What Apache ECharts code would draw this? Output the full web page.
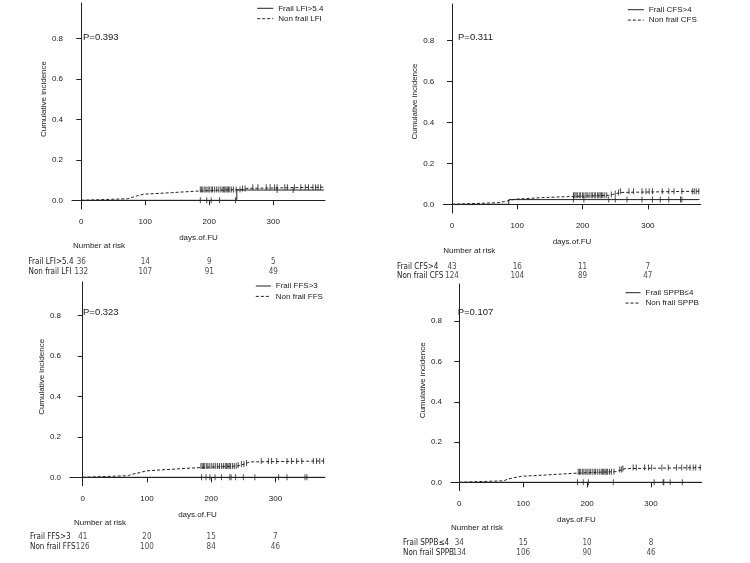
<!DOCTYPE html>
<html>
<head>
<meta charset="utf-8">
<script src="https://cdn.jsdelivr.net/npm/echarts@6/dist/echarts.min.js"></script>
<style>
html,body{margin:0;padding:0;background:#fff;}
#chart{width:750px;height:563px;}
</style>
</head>
<body>
<div id="chart"></div>
<script>
// ---------------- DATA ----------------
const riskTimes = [0, 100, 200, 300];
const xTicks = [0, 100, 200, 300];
const yTicks = [0, 0.2, 0.4, 0.6, 0.8];
const pValues = ['P=0.393', 'P=0.311', 'P=0.323', 'P=0.107'];

// Panel 1: LFI
const p1Groups = ['Frail LFI>5.4', 'Non frail LFI'];
const p1FrailSteps = [[0,0],[243,0.051],[379,0.051]];
const p1NonSteps = [[0,0],[2,0.0076],[72,0.015],[80,0.023],[88,0.030],[97,0.038],[141,0.046],[183,0.054],[252,0.059],[258,0.065],[379,0.065]];
const p1FrailCens = [186,196,203,216,241,306,331];
const p1NonCens = [186,188,190,193,195,198,200,203,205,208,211,214,217,220,222,224,226,228,230,232,235,238,242,248,252,256,268,276,289,295,302,306,318,322,333,343,350,355,362,366,370,374];
const p1RiskFrail = [36, 14, 9, 5];
const p1RiskNon = [132, 107, 91, 49];

// Panel 2: CFS
const p2Groups = ['Frail CFS>4', 'Non frail CFS'];
const p2FrailSteps = [[0,0],[87,0.023],[379,0.023]];
const p2NonSteps = [[0,0],[2,0.008],[72,0.016],[84,0.025],[97,0.033],[139,0.038],[184,0.044],[240,0.048],[246,0.053],[252,0.058],[258,0.064],[379,0.064]];
const p2FrailCens = [186,202,240,250,268,291,307,319,332,350,352];
const p2NonCens = [186,188,190,192,195,197,200,202,205,207,210,213,215,218,220,223,225,227,229,231,234,237,244,250,255,258,271,278,291,297,302,307,322,332,340,352,368,371,374,378];
const p2RiskFrail = [43, 16, 11, 7];
const p2RiskNon = [124, 104, 89, 47];

// Panel 3: FFS
const p3Groups = ['Frail FFS>3', 'Non frail FFS'];
const p3FrailSteps = [[0,0],[377,0]];
const p3NonSteps = [[0,0],[2,0.008],[71,0.016],[78,0.024],[90,0.032],[99,0.040],[139,0.048],[181,0.056],[241,0.061],[247,0.066],[252,0.071],[256,0.076],[260,0.081],[377,0.081]];
const p3FrailCens = [185,192,198,206,216,229,231,238,250,268,305,318,346,349];
const p3NonCens = [184,186,188,190,193,195,198,201,204,207,210,213,216,219,222,224,226,228,230,233,236,239,242,247,251,255,278,289,294,302,318,325,333,341,359,364,369,375];
const p3RiskFrail = [41, 20, 15, 7];
const p3RiskNon = [126, 100, 84, 46];

// Panel 4: SPPB
const p4Groups = ['Frail SPPB\u22644', 'Non frail SPPB'];
const p4FrailSteps = [[0,0],[379,0]];
const p4NonSteps = [[0,0],[2,0.0075],[70,0.015],[75,0.022],[85,0.030],[97,0.037],[139,0.045],[181,0.053],[245,0.058],[250,0.063],[255,0.068],[260,0.073],[379,0.073]];
const p4FrailCens = [185,194,202,241,305,319,320,330,349];
const p4NonCens = [186,188,190,193,195,198,200,203,205,208,211,213,216,219,222,224,226,228,230,232,235,238,242,251,254,256,272,277,290,296,301,317,327,340,348,356,361,366,370,377];
const p4RiskFrail = [34, 15, 10, 8];
const p4RiskNon = [134, 106, 90, 46];

// ---------------- LAYOUT ----------------
const panels = [
  {groups:p1Groups, fs:p1FrailSteps, ns:p1NonSteps, fc:p1FrailCens, nc:p1NonCens, rf:p1RiskFrail, rn:p1RiskNon, p:pValues[0],
   g:{left:72, top:3, width:253, height:206}, x:[-14.5,380.8], y:[-0.043,0.977],
   leg:{left:256.7, top:4.3, w:16}, pv:[83,38], nar:[73,247], risk:{top:257, h:20, labelLeft:28.5}},
  {groups:p2Groups, fs:p2FrailSteps, ns:p2NonSteps, fc:p2FrailCens, nc:p2NonCens, rf:p2RiskFrail, rn:p2RiskNon, p:pValues[1],
   g:{left:443.3, top:4, width:257.4, height:209}, x:[-13.3,380.9], y:[-0.0425,0.979],
   leg:{left:627.3, top:5.7, w:16}, pv:[458,38], nar:[443.3,252], risk:{top:262.5, h:18, labelLeft:397}},
  {groups:p3Groups, fs:p3FrailSteps, ns:p3NonSteps, fc:p3FrailCens, nc:p3NonCens, rf:p3RiskFrail, rn:p3RiskNon, p:pValues[2],
   g:{left:70, top:282, width:255, height:203.7}, x:[-19.8,377.2], y:[-0.0416,0.967],
   leg:{left:255.3, top:282, w:15}, pv:[83,313], nar:[74,524], risk:{top:532, h:20, labelLeft:30}},
  {groups:p4Groups, fs:p4FrailSteps, ns:p4NonSteps, fc:p4FrailCens, nc:p4NonCens, rf:p4RiskFrail, rn:p4RiskNon, p:pValues[3],
   g:{left:451, top:284, width:250.7, height:206.7}, x:[-13,379.3], y:[-0.0417,0.985],
   leg:{left:625, top:288.7, w:15}, pv:[457.7,313], nar:[451,529], risk:{top:538, h:20, labelLeft:403}}
];

const FONT = 'Liberation Sans, Arial, sans-serif';
const NARROW = '"Liberation Sans Narrow", "Arial Narrow", "DejaVu Sans Condensed", sans-serif';
const INK = '#1a1a1a';
const LINE = '#222';

function stepValueAt(steps, t) {
  let v = steps[0][1];
  for (const s of steps) { if (s[0] <= t) v = s[1]; else break; }
  return v;
}

const grid = [], xAxis = [], yAxis = [], series = [], legend = [], graphic = [];

panels.forEach((P, i) => {
  const gi = grid.length;
  grid.push({left:P.g.left, top:P.g.top, width:P.g.width, height:P.g.height, containLabel:false});
  xAxis.push({
    type:'value', gridIndex:gi, min:P.x[0], max:P.x[1],
    name:'days.of.FU', nameLocation:'middle', nameGap:25,
    nameTextStyle:{fontSize:8, color:INK, fontFamily:FONT},
    axisLine:{show:true, lineStyle:{color:LINE, width:1}},
    axisTick:{show:true, length:5, customValues:xTicks, lineStyle:{color:LINE}},
    axisLabel:{customValues:xTicks, fontSize:8, color:INK, fontFamily:FONT, margin:9},
    splitLine:{show:false}
  });
  yAxis.push({
    type:'value', gridIndex:gi, min:P.y[0], max:P.y[1],
    name:'Cumulative incidence', nameLocation:'middle', nameGap:24,
    nameTextStyle:{fontSize:8, color:INK, fontFamily:FONT, padding:[0,0,0,14]},
    axisLine:{show:true, lineStyle:{color:LINE, width:1}},
    axisTick:{show:true, length:5, customValues:yTicks, lineStyle:{color:LINE}},
    axisLabel:{customValues:yTicks, fontSize:8, color:INK, fontFamily:FONT, margin:9,
               formatter: v => Number(v).toFixed(1)},
    splitLine:{show:false}
  });
  const ai = xAxis.length - 1;
  series.push({
    name:P.groups[0], type:'line', xAxisIndex:ai, yAxisIndex:ai, step:'end',
    data:P.fs, symbol:'none', lineStyle:{color:LINE, width:1, type:'solid'}, itemStyle:{color:LINE}, z:3
  });
  series.push({
    name:P.groups[1], type:'line', xAxisIndex:ai, yAxisIndex:ai, step:'end',
    data:P.ns, symbol:'none', lineStyle:{color:LINE, width:1, type:[3,2]}, itemStyle:{color:LINE}, z:3
  });
  series.push({
    name:P.groups[0] + ' censored', type:'scatter', xAxisIndex:ai, yAxisIndex:ai,
    data:P.fc.map(t => [t, stepValueAt(P.fs, t)]), symbol:'rect', symbolSize:[1,6],
    itemStyle:{color:LINE}, z:4, silent:true
  });
  series.push({
    name:P.groups[1] + ' censored', type:'scatter', xAxisIndex:ai, yAxisIndex:ai,
    data:P.nc.map(t => [t, stepValueAt(P.ns, t)]), symbol:'rect', symbolSize:[1,6],
    itemStyle:{color:LINE}, z:4, silent:true
  });
  legend.push({
    data:[P.groups[0], P.groups[1]], orient:'vertical', left:P.leg.left, top:P.leg.top,
    itemWidth:P.leg.w, itemHeight:8, itemGap:2.4, padding:0, selectedMode:false,
    itemStyle:{opacity:0, borderWidth:0},
    lineStyle:{width:1},
    textStyle:{fontSize:8, color:INK, fontFamily:FONT}
  });

  // Risk table grid
  const rg = grid.length;
  grid.push({left:P.g.left, top:P.risk.top, width:P.g.width, height:P.risk.h, containLabel:false});
  xAxis.push({type:'value', gridIndex:rg, min:P.x[0], max:P.x[1], show:false});
  yAxis.push({
    type:'category', gridIndex:rg, data:[P.groups[0], P.groups[1]], inverse:true,
    axisLine:{show:false}, axisTick:{show:false}, splitLine:{show:false},
    axisLabel:{interval:0, hideOverlap:false, align:'left', margin:P.g.left - P.risk.labelLeft,
               fontSize:8, color:INK, fontFamily:NARROW}
  });
  const ri = xAxis.length - 1;
  const riskData = [];
  riskTimes.forEach((t, k) => { riskData.push([t, 0, P.rf[k]]); riskData.push([t, 1, P.rn[k]]); });
  series.push({
    name:'risk' + i, type:'scatter', xAxisIndex:ri, yAxisIndex:ri, data:riskData,
    symbolSize:0, silent:true,
    label:{show:true, position:'inside', formatter: p => String(p.data[2]), fontSize:8, color:INK, fontFamily:NARROW}
  });

  graphic.push({type:'text', left:P.pv[0], top:P.pv[1] - 5.5,
    style:{text:P.p, fontSize:9.5, fill:INK, fontFamily:FONT}});
  graphic.push({type:'text', left:P.nar[0], top:P.nar[1] - 5,
    style:{text:'Number at risk', fontSize:8, fill:INK, fontFamily:FONT}});
});

const chart = echarts.init(document.getElementById('chart'), null, {renderer:'canvas'});
chart.setOption({
  animation:false,
  backgroundColor:'#fff',
  grid, xAxis, yAxis, series, legend, graphic
});
</script>
</body>
</html>
